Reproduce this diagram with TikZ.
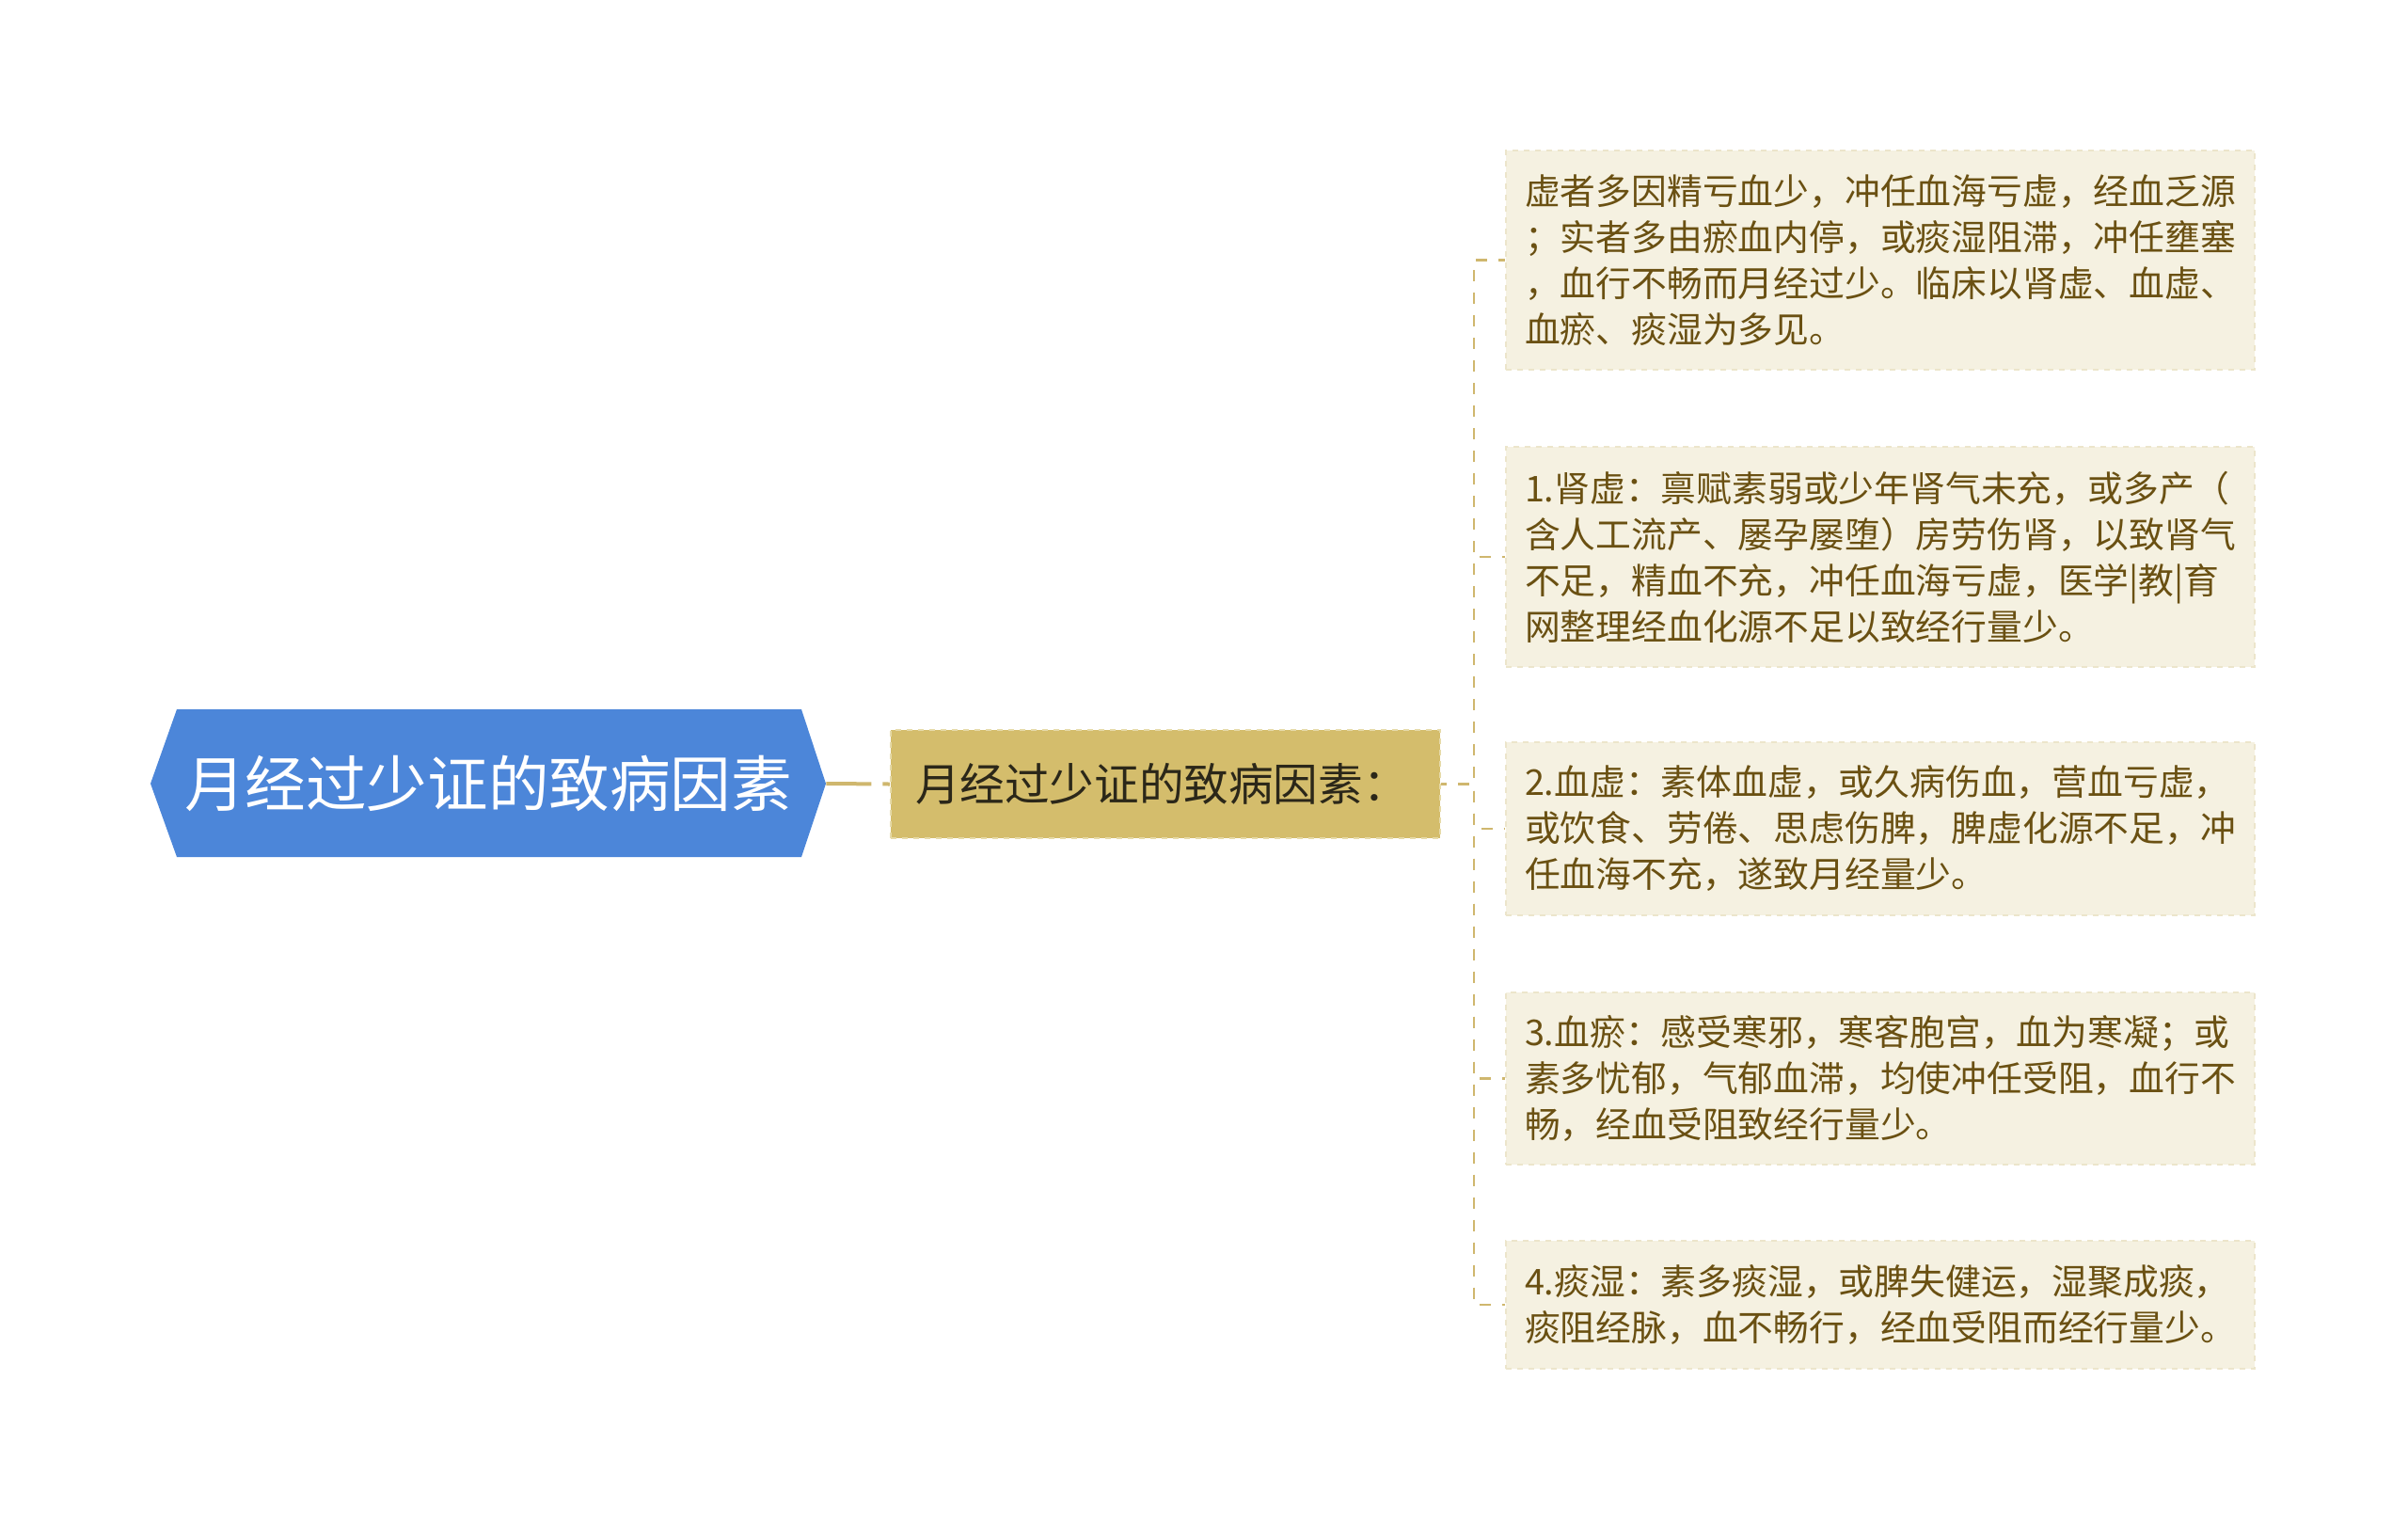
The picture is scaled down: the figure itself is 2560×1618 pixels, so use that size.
\documentclass[tikz,border=0pt]{standalone}
\usepackage{fontspec}
\setmainfont{Noto Sans CJK SC}
\definecolor{rootblue}{HTML}{4C86D9}
\definecolor{midfill}{HTML}{D4BD6C}
\definecolor{midborder}{HTML}{E6DAA8}
\definecolor{midtext}{HTML}{2B2719}
\definecolor{leaffill}{HTML}{F5F1E1}
\definecolor{leafborder}{HTML}{ECE5CB}
\definecolor{leaftext}{HTML}{6A5012}
\definecolor{conncol}{HTML}{CFB76E}
\begin{document}
\begin{tikzpicture}[x=0.5pt,y=-0.5pt,
  roottext/.style={rectangle, inner sep=0pt, minimum width=359pt, minimum height=78.5pt,
    text=white, font=\fontsize{32.3pt}{38pt}\selectfont},
  midbox/.style={rectangle, fill=midfill, draw=midborder, dashed, line width=1pt,
    minimum width=292pt, minimum height=57.5pt, inner xsep=13pt, text width=266pt,
    align=left, text=midtext, font=\fontsize{23.8pt}{28pt}\selectfont},
  leafbox/.style={rectangle, fill=leaffill, draw=leafborder, dashed, line width=1pt,
    minimum width=398pt, inner xsep=10pt, text width=378pt, align=left,
    text=leaftext, font=\fontsize{18.9pt}{24.5pt}\selectfont},
  connroot/.style={draw=conncol, line width=2pt, dash pattern=on 24pt off 6pt},
  connleaf/.style={draw=conncol, line width=1.4pt, dash pattern=on 6pt off 6pt, dash phase=3pt}
]
\useasboundingbox (0,0) rectangle (2560,1618);
\fill[white] (0,0) rectangle (2560,1618);

% root
\fill[rootblue] (160,833) -- (188,754) -- (852,754) -- (878,833) -- (852,911) -- (188,911) -- cycle;
\node[roottext] (root) at (519,833) {月经过少证的致病因素};

% middle
\node[midbox] (mid) at (1239,833.5) {月经过少证的致病因素：};

% leaves
\node[leafbox, minimum height=116.5pt] (l1) at (1999,276.5) {虚者多因精亏血少，冲任血海亏虚，经血乏源\\；实者多由瘀血内停，或痰湿阻滞，冲任壅塞\\，血行不畅而月经过少。临床以肾虚、血虚、\\血瘀、痰湿为多见。};
\node[leafbox, minimum height=117pt] (l2) at (1999,592) {1.肾虚：禀赋素弱或少年肾气未充，或多产（\\含人工流产、屡孕屡堕）房劳伤肾，以致肾气\\不足，精血不充，冲任血海亏虚，医学|教|育\\网整理经血化源不足以致经行量少。};
\node[leafbox, minimum height=92pt] (l3) at (1999,881) {2.血虚：素体血虚，或久病伤血，营血亏虚，\\或饮食、劳倦、思虑伤脾，脾虚化源不足，冲\\任血海不充，遂致月经量少。};
\node[leafbox, minimum height=91.5pt] (l4) at (1999,1146.5) {3.血瘀：感受寒邪，寒客胞宫，血为寒凝；或\\素多忧郁，气郁血滞，均使冲任受阻，血行不\\畅，经血受阻致经行量少。};
\node[leafbox, minimum height=68pt] (l5) at (1999,1387) {4.痰湿：素多痰湿，或脾失健运，湿聚成痰，\\痰阻经脉，血不畅行，经血受阻而经行量少。};

% connectors
\draw[connroot] (root.east) -- (mid.west);
\foreach \n in {l1,l2,l3,l4,l5}{
  \draw[connleaf] (mid.east) -- ++(35,0) |- (\n.west);
}
\end{tikzpicture}
\end{document}
